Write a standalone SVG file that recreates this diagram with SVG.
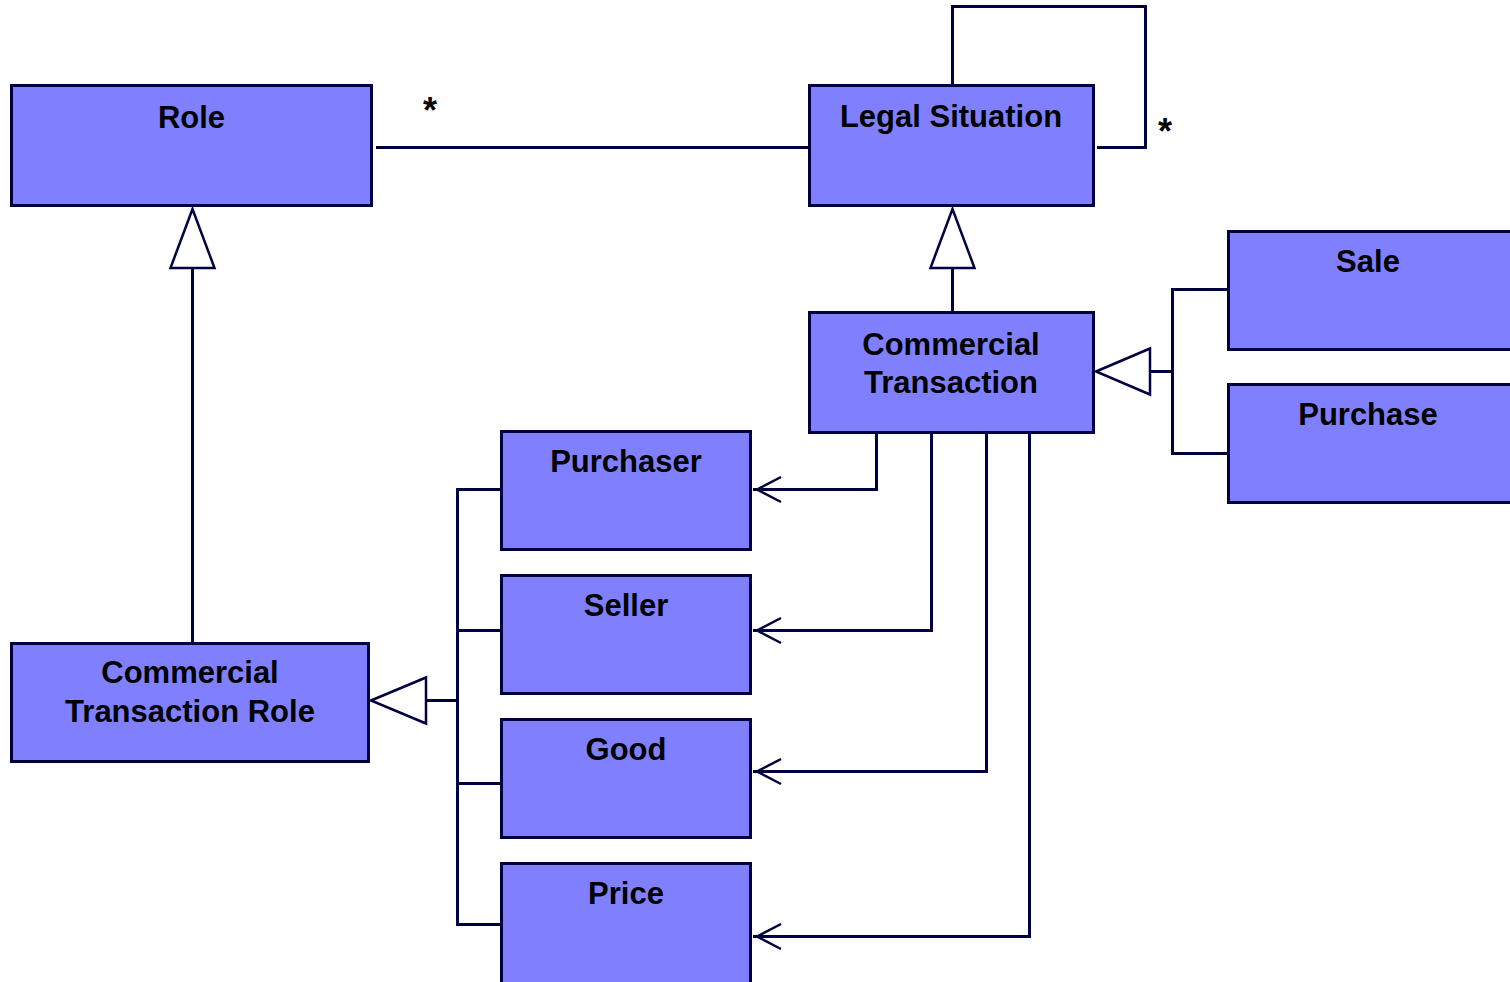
<svg xmlns="http://www.w3.org/2000/svg" width="1510" height="982" viewBox="0 0 1510 982">
<style>
.box{fill:#8080ff;stroke:#000040;stroke-width:3}
.lbl{font-family:"Liberation Sans",Arial,sans-serif;font-weight:bold;font-size:31px;fill:#000;text-anchor:middle}
.mult{font-family:"Liberation Sans",Arial,sans-serif;font-weight:bold;font-size:36px;fill:#000;text-anchor:middle}
.ln{fill:none;stroke:#000040;stroke-width:3}
.tri{fill:#fff;stroke:#000040;stroke-width:2.5;stroke-linejoin:miter}
.arr{fill:none;stroke:#000040;stroke-width:2.5}
</style>
<rect width="1510" height="982" fill="#fff"/>
<g id="connectors">
<path class="ln" d="M376 147.5 H808"/>
<path class="ln" d="M952.5 84 V6.5 H1145.5 V147.5 H1097"/>
<path class="ln" d="M952.5 268 V311"/>
<polygon class="tri" points="952.5,209 930.5,268 974.5,268"/>
<path class="ln" d="M192.5 268 V642"/>
<polygon class="tri" points="192.5,209 170.5,268 214.5,268"/>
<path class="ln" d="M426 700.5 H457.5 M457.5 489.5 V924.5 M456 489.5 H500 M456 630.5 H500 M456 783.5 H500 M456 924.5 H500"/>
<polygon class="tri" points="371,700.5 426,677.5 426,723.5"/>
<path class="ln" d="M1150 371.5 H1172.5 M1172.5 289.5 V453.5 M1171 289.5 H1227 M1171 453.5 H1227"/>
<polygon class="tri" points="1096,371.5 1150,348.5 1150,394.5"/>
<path class="ln" d="M876.5 434 V489.5 H753"/>
<path class="arr" d="M781 477 L757 489.5 L781 502"/>
<path class="ln" d="M931.5 434 V630.5 H753"/>
<path class="arr" d="M781 618 L757 630.5 L781 643"/>
<path class="ln" d="M986.5 434 V771.5 H753"/>
<path class="arr" d="M781 759 L757 771.5 L781 784"/>
<path class="ln" d="M1029.5 434 V936.5 H753"/>
<path class="arr" d="M781 924 L757 936.5 L781 949"/>
<text class="mult" x="430" y="123">*</text>
<text class="mult" x="1165" y="144">*</text>
</g>
<g id="role"><rect class="box" x="11.5" y="85.5" width="360" height="120"/><text class="lbl" x="191.5" y="128">Role</text></g>
<g id="legal-situation"><rect class="box" x="809.5" y="85.5" width="284" height="120"/><text class="lbl" x="951" y="127">Legal Situation</text></g>
<g id="commercial-transaction"><rect class="box" x="809.5" y="312.5" width="284" height="120"/><text class="lbl" x="951" y="355">Commercial</text><text class="lbl" x="951" y="393">Transaction</text></g>
<g id="sale"><rect class="box" x="1228.5" y="231.5" width="300" height="118"/><text class="lbl" x="1368" y="272">Sale</text></g>
<g id="purchase"><rect class="box" x="1228.5" y="384.5" width="300" height="118"/><text class="lbl" x="1368" y="425">Purchase</text></g>
<g id="purchaser"><rect class="box" x="501.5" y="431.5" width="249" height="118"/><text class="lbl" x="626" y="472">Purchaser</text></g>
<g id="seller"><rect class="box" x="501.5" y="575.5" width="249" height="118"/><text class="lbl" x="626" y="616">Seller</text></g>
<g id="good"><rect class="box" x="501.5" y="719.5" width="249" height="118"/><text class="lbl" x="626" y="760">Good</text></g>
<g id="price"><rect class="box" x="501.5" y="863.5" width="249" height="200"/><text class="lbl" x="626" y="904">Price</text></g>
<g id="commercial-transaction-role"><rect class="box" x="11.5" y="643.5" width="357" height="118"/><text class="lbl" x="190" y="683">Commercial</text><text class="lbl" x="190" y="722">Transaction Role</text></g>
</svg>
